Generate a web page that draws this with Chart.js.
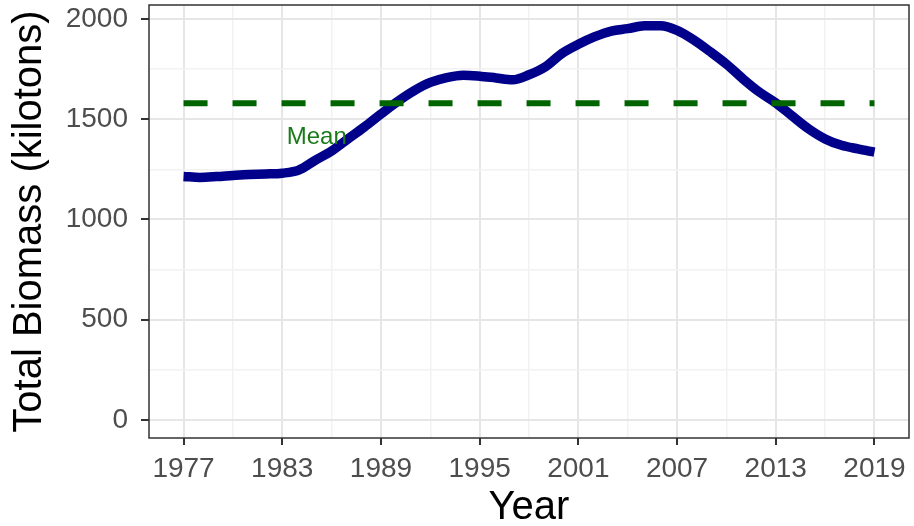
<!DOCTYPE html>
<html>
<head>
<meta charset="utf-8">
<script src="https://cdn.jsdelivr.net/npm/chart.js@4/dist/chart.umd.min.js"></script>
<style>
  html, body { margin: 0; padding: 0; background: #fff; }
  #wrap { width: 914px; height: 526px; }
</style>
</head>
<body>
<div id="wrap"><canvas id="c"></canvas></div>
<script>
const years = [1977, 1978, 1979, 1980, 1981, 1982, 1983, 1984, 1985, 1986,
  1987, 1988, 1989, 1990, 1991, 1992, 1993, 1994, 1995, 1996,
  1997, 1998, 1999, 2000, 2001, 2002, 2003, 2004, 2005, 2006,
  2007, 2008, 2009, 2010, 2011, 2012, 2013, 2014, 2015, 2016,
  2017, 2018, 2019];
const biomass = [1215, 1210, 1214, 1220, 1225, 1227, 1231, 1246, 1295, 1342,
  1402, 1462, 1526, 1588, 1642, 1684, 1708, 1720, 1715, 1706,
  1697, 1722, 1762, 1828, 1874, 1912, 1940, 1952, 1966, 1967,
  1944, 1897, 1838, 1775, 1702, 1636, 1582, 1516, 1452, 1402,
  1370, 1352, 1336];
const meanBiomass = 1580;
const meanLabel = { text: 'Mean', x: 1985.1, y: 1412 };
const xTicks = [1977, 1980, 1983, 1986, 1989, 1992, 1995, 1998, 2001, 2004,
  2007, 2010, 2013, 2016, 2019];
const xLabels = [1977, 1983, 1989, 1995, 2001, 2007, 2013, 2019];
const yTicks = [0, 250, 500, 750, 1000, 1250, 1500, 1750, 2000];
const yLabels = [0, 500, 1000, 1500, 2000];

const FONT = '"Liberation Sans", Arial, Helvetica, sans-serif';

const panelBorder = {
  id: 'panelBorder',
  afterDraw(chart) {
    const { ctx, chartArea: a } = chart;
    ctx.save();
    ctx.strokeStyle = '#333333';
    ctx.lineWidth = 1.5;
    ctx.strokeRect(a.left, a.top, a.right - a.left, a.bottom - a.top);
    ctx.restore();
  }
};

const meanText = {
  id: 'meanText',
  afterDatasetsDraw(chart) {
    const { ctx, scales } = chart;
    ctx.save();
    ctx.font = '24px ' + FONT;
    ctx.fillStyle = '#1a7a1a';
    ctx.textAlign = 'center';
    ctx.textBaseline = 'middle';
    ctx.fillText(meanLabel.text, scales.x.getPixelForValue(meanLabel.x), scales.y.getPixelForValue(meanLabel.y));
    ctx.restore();
  }
};

const isMajorX = v => xLabels.includes(v);
const isMajorY = v => yLabels.includes(v);

new Chart(document.getElementById('c'), {
  type: 'line',
  data: {
    datasets: [
      {
        label: 'Mean',
        data: [{ x: years[0], y: meanBiomass }, { x: years[years.length - 1], y: meanBiomass }],
        borderColor: '#006400',
        borderWidth: 6,
        borderDash: [24, 25],
        borderCapStyle: 'butt',
        pointRadius: 0,
        order: 0,
      },
      {
        label: 'Total Biomass',
        data: years.map((y, i) => ({ x: y, y: biomass[i] })),
        borderColor: '#00008B',
        borderWidth: 9.5,
        borderCapStyle: 'butt',
        borderJoinStyle: 'round',
        cubicInterpolationMode: 'monotone',
        pointRadius: 0,
        order: 1,
      },
    ],
  },
  options: {
    responsive: true,
    maintainAspectRatio: false,
    animation: false,
    layout: { padding: { top: 5, right: 5, left: 0, bottom: 0 } },
    plugins: { legend: { display: false }, tooltip: { enabled: false } },
    scales: {
      x: {
        type: 'linear',
        min: 1974.9,
        max: 2021.1,
        afterBuildTicks: s => { s.ticks = xTicks.map(v => ({ value: v })); },
        afterFit: s => { s.height = 88; s.paddingLeft = 0; s.paddingRight = 0; },
        ticks: {
          autoSkip: false,
          maxRotation: 0,
          padding: 7,
          color: '#4D4D4D',
          font: { family: FONT, size: 28 },
          callback: v => isMajorX(v) ? String(v) : '',
        },
        grid: {
          color: c => isMajorX(c.tick.value) ? '#E6E6E6' : '#F2F2F2',
          lineWidth: c => isMajorX(c.tick.value) ? 2 : 1.5,
          tickColor: c => isMajorX(c.tick.value) ? '#333333' : 'rgba(0,0,0,0)',
          tickWidth: 2,
          tickLength: 7,
        },
        border: { display: false },
        title: {
          display: true,
          text: 'Year',
          color: '#000000',
          font: { family: FONT, size: 40, lineHeight: 1 },
          padding: { top: 0, bottom: -2 },
        },
      },
      y: {
        type: 'linear',
        min: -90,
        max: 2070,
        afterBuildTicks: s => { s.ticks = yTicks.map(v => ({ value: v })); },
        afterFit: s => { s.width = 149; s.paddingTop = 0; s.paddingBottom = 0; },
        ticks: {
          autoSkip: false,
          padding: 13,
          color: '#4D4D4D',
          font: { family: FONT, size: 28 },
          callback: v => isMajorY(v) ? String(v) : '',
        },
        grid: {
          color: c => isMajorY(c.tick.value) ? '#E6E6E6' : '#F2F2F2',
          lineWidth: c => isMajorY(c.tick.value) ? 2 : 1.5,
          tickColor: c => isMajorY(c.tick.value) ? '#333333' : 'rgba(0,0,0,0)',
          tickWidth: 2,
          tickLength: 8,
        },
        border: { display: false },
        title: {
          display: true,
          text: 'Total Biomass (kilotons)',
          color: '#000000',
          font: { family: FONT, size: 40, lineHeight: 1.2 },
          padding: { top: 6, bottom: 0 },
        },
      },
    },
  },
  plugins: [panelBorder, meanText],
});
</script>
</body>
</html>
